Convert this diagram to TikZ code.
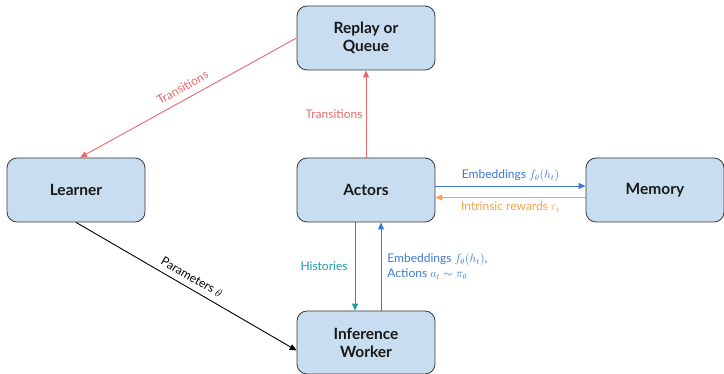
\documentclass[tikz,border=0pt]{standalone}
\usepackage{fontspec}
\setmainfont{Lato}
\usetikzlibrary{arrows.meta}

\definecolor{boxfill}{HTML}{C9DDF0}
\definecolor{boxedge}{HTML}{3A3A3A}
\definecolor{trred}{HTML}{E8696B}
\definecolor{embblue}{HTML}{3C78D8}
\definecolor{rewor}{HTML}{F6A24A}
\definecolor{histeal}{HTML}{1E9AA8}

\tikzset{
  block/.style={draw=boxedge, fill=boxfill, line width=0.8pt, rounded corners=10pt,
    minimum width=138pt, minimum height=64pt, align=center,
    font=\fontsize{15.5}{18}\selectfont\bfseries, text=black!90},
  link/.style={line width=0.9pt, -{Triangle[length=7pt,width=6pt]}},
  lab/.style={font=\fontsize{12}{15}\selectfont, inner sep=3pt}
}

\begin{document}
\begin{tikzpicture}[x=1pt,y=-1pt]
\useasboundingbox (0,0) rectangle (724,374);

% components
\node[block] (replay) at (366,38) {Replay or\\Queue};
\node[block] (learner) at (76,190) {Learner};
\node[block] (actors) at (366,190) {Actors};
\node[block] (memory) at (655,190) {Memory};
\node[block, minimum height=63pt] (infer) at (366,342.5) {Inference\\Worker};

% replay -> learner
\draw[link, trred] (replay.west) -- ([xshift=4pt]learner.north)
  node[lab, midway, above, sloped, text=trred, yshift=4pt] {Transitions};

% actors -> replay
\draw[link, trred] (actors.north) -- (replay.south)
  node[lab, midway, left, text=trred] {Transitions};

% actors <-> memory
\draw[link, embblue] ([yshift=4pt]actors.east) -- ([yshift=4pt]memory.west)
  node[lab, midway, above, text=embblue, yshift=1pt] {Embeddings $f_\theta(h_t)$};
\draw[link, rewor] ([yshift=-7.5pt]memory.west) -- ([yshift=-7.5pt]actors.east)
  node[lab, midway, below, text=rewor, yshift=-1pt] {Intrinsic rewards $r_t$};

% actors <-> inference worker
\draw[link, histeal] ([xshift=-11pt]actors.south) -- ([xshift=-11pt]infer.north)
  node[lab, midway, left, text=histeal, xshift=-4pt] {Histories};
\draw[link, embblue] ([xshift=15pt]infer.north) -- ([xshift=15pt]actors.south)
  node[lab, midway, right, text=embblue, align=left, xshift=3pt, font=\fontsize{12}{15}\selectfont]
  {Embeddings $f_\theta(h_t)$,\\Actions $a_t\sim\pi_\theta$};

% learner -> inference worker
\draw[link, black] (learner.south) -- ([yshift=-8pt]infer.west)
  node[lab, midway, above, sloped, text=black, yshift=3pt] {Parameters $\theta$};
\end{tikzpicture}
\end{document}
